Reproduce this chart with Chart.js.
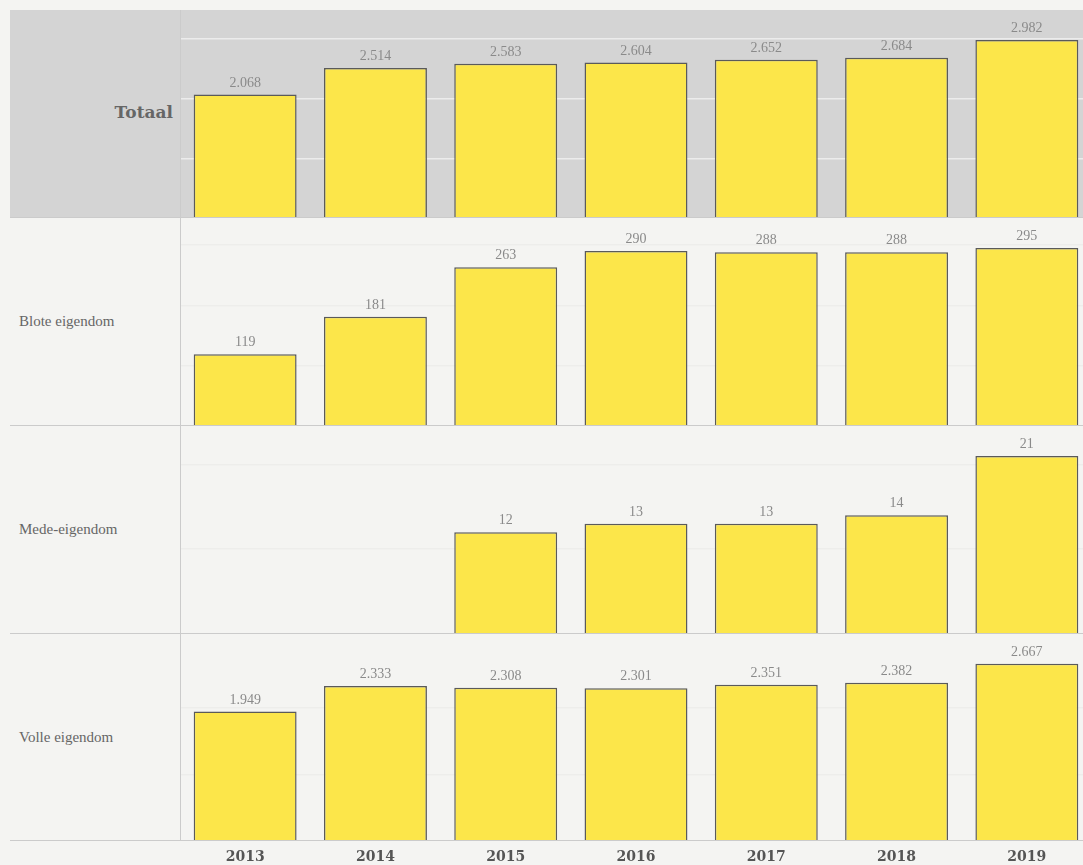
<!DOCTYPE html>
<html>
<head>
<meta charset="utf-8">
<script src="https://cdn.jsdelivr.net/npm/chart.js@4.4.0/dist/chart.umd.min.js"></script>
<style>
  html, body { margin:0; padding:0; width:1083px; height:865px; overflow:hidden; background:#f4f4f2; }
  #wrap { position:relative; width:1083px; height:865px; overflow:hidden; }
  .panelbg { position:absolute; left:10px; top:10px; width:1073px; height:208px; background:#d4d4d4; }
  canvas { position:absolute; left:180px; }
  .hline { position:absolute; left:10px; width:1073px; height:0; border-top:1.5px solid #cbcbcb; z-index:5; }
  .vline { position:absolute; left:180px; top:10px; width:0; height:831px; border-left:1.5px solid #cbcbcb; z-index:5; }
  .lab { position:absolute; font-family:"Liberation Serif", serif; font-size:15px; color:#666; z-index:6; }
  .labTot { position:absolute; font-family:"DejaVu Serif", serif; font-weight:bold; font-size:17px; color:#666; z-index:6; }
</style>
</head>
<body>
<div id="wrap">
  <div class="panelbg"></div>
  <canvas id="c0" width="912" height="208" style="top:10px"></canvas>
  <canvas id="c1" width="912" height="208" style="top:218px"></canvas>
  <canvas id="c2" width="912" height="208" style="top:426px"></canvas>
  <canvas id="c3" width="912" height="231" style="top:634px"></canvas>
  <div class="hline" style="top:217px"></div>
  <div class="hline" style="top:425px"></div>
  <div class="hline" style="top:633px"></div>
  <div class="hline" style="top:840px"></div>
  <div class="vline"></div>
  <div class="labTot" style="right:910px; top:102px;">Totaal</div>
  <div class="lab" style="left:19px; top:313px;">Blote eigendom</div>
  <div class="lab" style="left:19px; top:521px;">Mede-eigendom</div>
  <div class="lab" style="left:19px; top:729px;">Volle eigendom</div>
</div>
<script>
const years = ["2013", "2014", "2015", "2016", "2017", "2018", "2019"];
const panelNames = ["Totaal", "Blote eigendom", "Mede-eigendom", "Volle eigendom"];
const totaal = [2068, 2514, 2583, 2604, 2652, 2684, 2982];
const bloteEigendom = [119, 181, 263, 290, 288, 288, 295];
const medeEigendom = [null, null, 12, 13, 13, 14, 21];
const volleEigendom = [1949, 2333, 2308, 2301, 2351, 2382, 2667];
const gridTotaal = [1000, 2000, 3000];
const gridBlote = [100, 200, 300];
const gridMede = [10, 20];
const gridVolle = [1000, 2000];

function fmt(v) {
  return String(v).replace(/\B(?=(\d{3})+(?!\d))/g, ".");
}

const labelPlugin = {
  id: "valueLabels",
  afterDatasetsDraw(chart, args, opts) {
    const ctx = chart.ctx;
    const meta = chart.getDatasetMeta(0);
    const data = chart.data.datasets[0].data;
    ctx.save();
    ctx.font = "14px 'Liberation Serif', serif";
    ctx.fillStyle = "#8a8a8a";
    ctx.textAlign = "center";
    ctx.textBaseline = "alphabetic";
    meta.data.forEach((bar, i) => {
      if (data[i] === null || data[i] === undefined) return;
      ctx.fillText(fmt(data[i]), bar.x, bar.y - 8);
    });
    if (opts && opts.years) {
      ctx.font = "bold 14px 'DejaVu Serif', serif";
      ctx.fillStyle = "#555";
      ctx.textBaseline = "middle";
      const xs = chart.scales.x;
      years.forEach((y, i) => {
        ctx.fillText(y, xs.getPixelForValue(i), chart.chartArea.bottom + 16);
      });
    }
    ctx.restore();
  }
};

function makeChart(id, values, gridVals, gridColor, withYears) {
  const maxV = Math.max(...values.filter(v => v !== null));
  return new Chart(document.getElementById(id), {
    type: "bar",
    data: {
      labels: years,
      datasets: [{
        data: values,
        backgroundColor: "#fce64a",
        borderColor: "#5a5a5a",
        borderWidth: 1.5,
        borderSkipped: "bottom",
        categoryPercentage: 0.79,
        barPercentage: 1.0
      }]
    },
    options: {
      responsive: false,
      animation: false,
      layout: { padding: { left: 0, right: 0, top: 0, bottom: withYears ? 24 : 0 } },
      plugins: {
        legend: { display: false },
        tooltip: { enabled: false },
        valueLabels: { years: withYears }
      },
      scales: {
        x: { display: false },
        y: {
          min: 0,
          max: maxV * 208 / 178,
          afterBuildTicks: (axis) => { axis.ticks = gridVals.map(v => ({ value: v })); },
          ticks: { display: false },
          grid: { color: gridColor, lineWidth: 1.5, drawTicks: false },
          border: { display: false }
        }
      }
    },
    plugins: [labelPlugin]
  });
}

makeChart("c0", totaal, gridTotaal, "#ececec", false);
makeChart("c1", bloteEigendom, gridBlote, "#ededeb", false);
makeChart("c2", medeEigendom, gridMede, "#ededeb", false);
makeChart("c3", volleEigendom, gridVolle, "#ededeb", true);
</script>
</body>
</html>
